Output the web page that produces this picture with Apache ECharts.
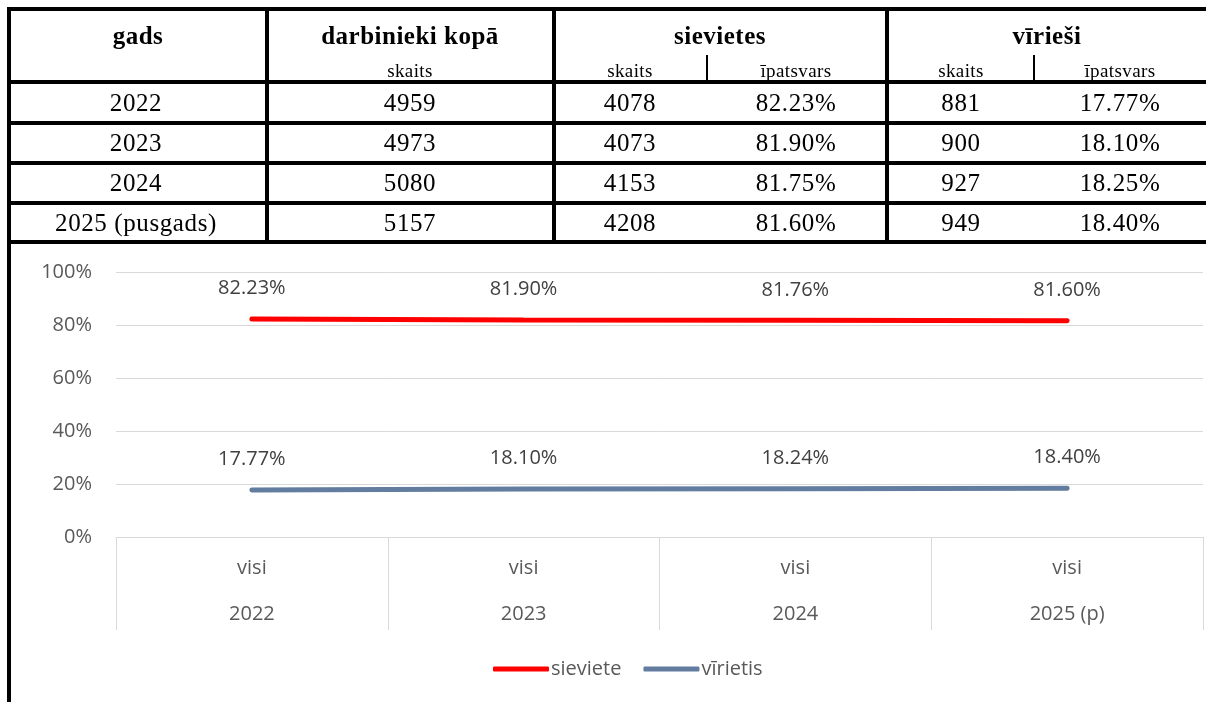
<!DOCTYPE html>
<html>
<head>
<meta charset="utf-8">
<script src="https://cdn.jsdelivr.net/npm/echarts@6/dist/echarts.min.js"></script>
<style>
  html, body { margin: 0; padding: 0; background: #fff; }
  #wrap { position: relative; width: 1206px; height: 702px; overflow: hidden; }
  #chart { position: absolute; left: 0; top: 0; width: 1206px; height: 702px; }
  #table { position: absolute; left: 0; top: 0; width: 1206px; height: 702px; pointer-events: none; z-index: 2; }
  .ln { position: absolute; background: #000; }
  .tx { position: absolute; transform: translate(-50%, -50%); white-space: nowrap; line-height: 1;
        font-family: "Liberation Serif", "Times New Roman", serif; color: #000; }
  .hd { font-weight: bold; font-size: 25px; letter-spacing: 0.5px; }
  .sub { font-size: 19px; letter-spacing: 0.4px; }
  .cell { font-size: 25px; letter-spacing: 0.6px; }
</style>
</head>
<body>
<div id="wrap">
  <div id="chart"></div>
  <div id="table"></div>
</div>
<script>
// ---- table data ----
var tableHeaders = ["gads", "darbinieki kopā", "sievietes", "vīrieši"];
var tableSubHeaders = ["skaits", "skaits", "īpatsvars", "skaits", "īpatsvars"];
var tableYears = ["2022", "2023", "2024", "2025 (pusgads)"];
var totalCount = [4959, 4973, 5080, 5157];
var womenCount = [4078, 4073, 4153, 4208];
var womenShare = [82.23, 81.90, 81.75, 81.60];
var menCount = [881, 900, 927, 949];
var menShare = [17.77, 18.10, 18.25, 18.40];

// ---- chart data ----
var catLevel1 = ["visi", "visi", "visi", "visi"];
var catYears = ["2022", "2023", "2024", "2025 (p)"];
var seriesNames = ["sieviete", "vīrietis"];
var chartWomen = [0.8223, 0.8190, 0.8176, 0.8160];
var chartMen = [0.1777, 0.1810, 0.1824, 0.1840];

// ---- build table ----
(function () {
  var t = document.getElementById('table');
  function line(x, y, w, h) {
    var d = document.createElement('div');
    d.className = 'ln';
    d.style.left = x + 'px'; d.style.top = y + 'px';
    d.style.width = w + 'px'; d.style.height = h + 'px';
    t.appendChild(d);
  }
  function text(s, cx, cy, cls) {
    var d = document.createElement('div');
    d.className = 'tx ' + cls;
    d.textContent = s;
    d.style.left = cx + 'px'; d.style.top = cy + 'px';
    t.appendChild(d);
  }
  var rowLines = [7, 80, 121, 161, 201, 240];
  rowLines.forEach(function (y) { line(7, y, 1199, 4); });
  line(7, 7, 4, 695);
  [265, 552, 885].forEach(function (x) { line(x, 7, 4, 237); });
  [706, 1033].forEach(function (x) { line(x, 55, 2, 26); });

  var headCx = [138, 410, 720, 1047];
  tableHeaders.forEach(function (h, i) { text(h, headCx[i], 35, 'hd'); });
  var subCx = [410, 630, 796, 961, 1120];
  tableSubHeaders.forEach(function (h, i) { text(h, subCx[i], 70, 'sub'); });
  var colCx = [136, 410, 630, 796, 961, 1120];
  var rowCy = [102, 142, 182, 222];
  tableYears.forEach(function (y, r) {
    var vals = [y, String(totalCount[r]), String(womenCount[r]), womenShare[r].toFixed(2) + '%',
                String(menCount[r]), menShare[r].toFixed(2) + '%'];
    vals.forEach(function (v, c) { text(v, colCx[c], rowCy[r], 'cell'); });
  });
})();

// ---- chart ----
var chart = echarts.init(document.getElementById('chart'), null, { renderer: 'canvas' });
var fontFam = '"Open Sans", "Noto Sans", sans-serif';
function pct(v) { return (v * 100).toFixed(2) + '%'; }
var option = {
  animation: false,
  textStyle: { fontFamily: fontFam },
  grid: { left: 116, right: 3, top: 272, height: 265, containLabel: false },
  xAxis: {
    type: 'category',
    data: catYears,
    boundaryGap: true,
    axisLine: { show: true, lineStyle: { color: '#d9d9d9', width: 1 } },
    axisTick: { show: true, interval: 0, length: 93, lineStyle: { color: '#d9d9d9', width: 1 } },
    axisLabel: {
      interval: 0, margin: 8, color: '#595959', fontSize: 20, lineHeight: 46, fontFamily: fontFam,
      formatter: function (v, i) { return catLevel1[i] + '\n' + v; }
    },
    splitLine: { show: false }
  },
  yAxis: {
    type: 'value', min: 0, max: 1, interval: 0.2,
    axisLine: { show: false }, axisTick: { show: false },
    axisLabel: { margin: 24, color: '#595959', fontSize: 20, fontFamily: fontFam,
      formatter: function (v) { return Math.round(v * 100) + '%'; } },
    splitLine: { lineStyle: { color: '#d9d9d9', width: 1 } }
  },
  legend: {
    left: 488, top: 654, itemWidth: 56, itemHeight: 5, itemGap: 22, icon: 'roundRect',
    textStyle: { color: '#595959', fontSize: 20, fontFamily: fontFam, padding: [0, 0, 0, -3] },
    data: seriesNames
  },
  series: [
    {
      name: seriesNames[0], type: 'line', data: chartWomen,
      symbol: 'circle', symbolSize: 1,
      itemStyle: { color: '#ff0000' },
      lineStyle: { color: '#ff0000', width: 5, cap: 'round' },
      label: { show: true, position: 'top', distance: 20, color: '#404040', fontSize: 20, fontFamily: fontFam,
        formatter: function (p) { return pct(p.value); } }
    },
    {
      name: seriesNames[1], type: 'line', data: chartMen,
      symbol: 'circle', symbolSize: 1,
      itemStyle: { color: '#627d9f' },
      lineStyle: { color: '#627d9f', width: 5, cap: 'round' },
      label: { show: true, position: 'top', distance: 20, color: '#404040', fontSize: 20, fontFamily: fontFam,
        formatter: function (p) { return pct(p.value); } }
    }
  ]
};
chart.setOption(option);
</script>
</body>
</html>
